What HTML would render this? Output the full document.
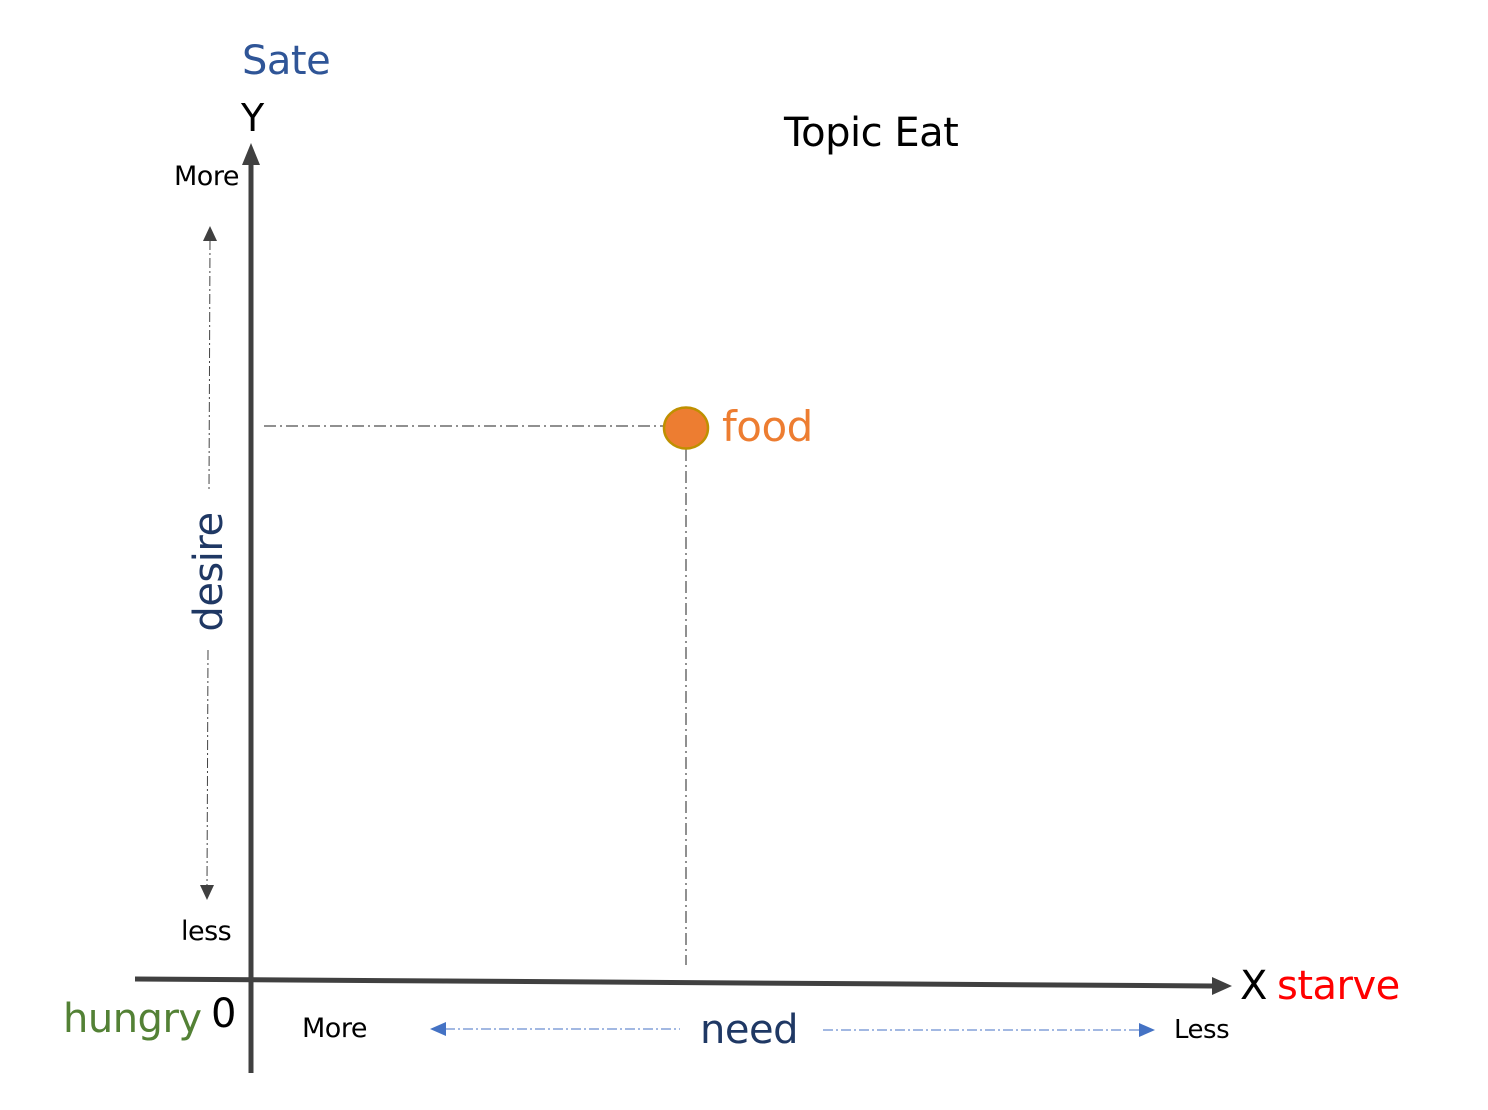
<!DOCTYPE html>
<html><head><meta charset="utf-8"><style>
html,body{margin:0;padding:0;background:#fff;}
svg{display:block;}
text{font-family:"DejaVu Sans","Liberation Sans",sans-serif;letter-spacing:-0.5px;}
</style></head><body>
<svg width="1488" height="1110" viewBox="0 0 1488 1110" xmlns="http://www.w3.org/2000/svg">
<line x1="251" y1="165" x2="251" y2="1073" stroke="#404040" stroke-width="5"/>
<polygon points="251,143 242,165 260,165" fill="#404040"/>
<line x1="135" y1="979" x2="1212" y2="986" stroke="#404040" stroke-width="5"/>
<polygon points="1232,986 1212,977 1212,995" fill="#404040"/>
<line x1="210" y1="240" x2="209" y2="490" stroke="#444" stroke-width="1" stroke-dasharray="10,3,2,3"/>
<line x1="208" y1="650" x2="207" y2="886" stroke="#444" stroke-width="1" stroke-dasharray="10,3,2,3"/>
<polygon points="210,226 203,241 217,241" fill="#404040"/>
<polygon points="207,900 200,885 214,885" fill="#404040"/>
<line x1="445" y1="1029" x2="680" y2="1029" stroke="#4472c4" stroke-width="1" stroke-dasharray="10,3,2,3"/>
<polygon points="430,1029 446,1022 446,1036" fill="#4472c4"/>
<line x1="823" y1="1030" x2="1140" y2="1030" stroke="#4472c4" stroke-width="1" stroke-dasharray="10,3,2,3"/>
<polygon points="1155,1030 1139,1023 1139,1037" fill="#4472c4"/>
<line x1="264" y1="426" x2="663" y2="426" stroke="#222" stroke-width="1" stroke-dasharray="12,4,2,4"/>
<line x1="686" y1="449" x2="686" y2="965" stroke="#222" stroke-width="1" stroke-dasharray="12,4,2,4"/>
<ellipse cx="686" cy="428" rx="22" ry="20.5" fill="#ed7d31" stroke="#bf9000" stroke-width="2.5"/>
<text x="242" y="74" font-size="40" fill="#2f5597">Sate</text>
<text x="241" y="131" font-size="38" fill="#000">Y</text>
<text x="784" y="146" font-size="40" fill="#000">Topic Eat</text>
<text x="174" y="185" font-size="27" fill="#000">More</text>
<text x="181" y="940" font-size="27" fill="#000">less</text>
<text transform="translate(222,572) rotate(-90)" text-anchor="middle" font-size="40" fill="#1f3864">desire</text>
<text x="722" y="441" font-size="42" fill="#ed7d31">food</text>
<text x="63" y="1032" font-size="40" fill="#538135">hungry</text>
<text x="211" y="1027" font-size="40" fill="#000">0</text>
<text x="302" y="1037" font-size="27" fill="#000">More</text>
<text x="700" y="1043" font-size="40" fill="#1f3864">need</text>
<text x="1174" y="1038" font-size="26" fill="#000">Less</text>
<text x="1240" y="999" font-size="40" fill="#000">X</text>
<text x="1277" y="999" font-size="40" fill="#ff0000">starve</text>
</svg>
</body></html>
